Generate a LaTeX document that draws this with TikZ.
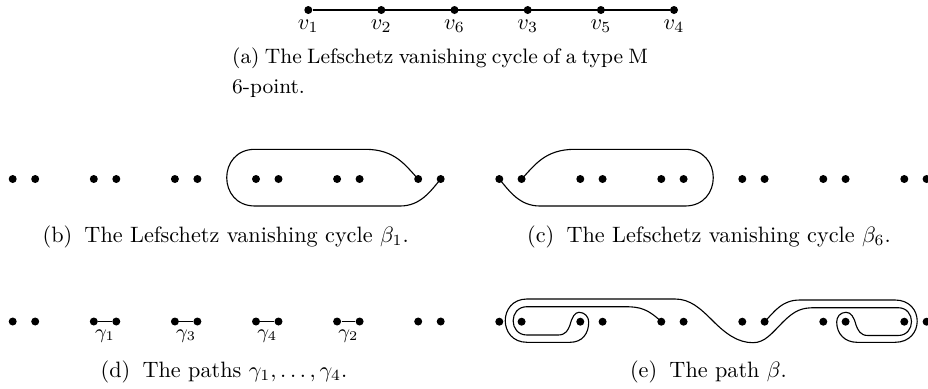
\documentclass[tikz,border=0pt]{standalone}
\usepackage{amsmath}
\usetikzlibrary{positioning}
\tikzset{
  pt/.style={circle, fill=black, inner sep=0pt, minimum size=3.6pt},
  seg/.style={line width=0.75pt},
  loopc/.style={line width=0.5pt},
  vlab/.style={inner sep=0pt, anchor=base},
  capt/.style={inner sep=0pt, anchor=base},
  glab/.style={font=\small, inner sep=0pt},
}
\newcommand{\sublab}[1]{(#1)\hspace{0.55em}}
\newcommand{\capafont}{\fontsize{9.4pt}{13.4pt}\selectfont\spaceskip=2.4pt plus 1pt minus 0.5pt\relax}

\begin{document}
\begin{tikzpicture}[x=0.45pt,y=-0.45pt]
  \useasboundingbox (0,0) rectangle (928,388);

  % (a) the chain of six points
  \foreach \i/\x/\s in {1/308.3/1,2/381.3/2,3/454.5/6,4/527.7/3,5/600.9/5,6/674/4} {
    \node[pt] (a\i) at (\x,10) {};
    \node[vlab] (va\i) at (\x,29.3) {$v_{\s}$};
  }
  \draw[seg] (a1) -- (a6);
  \node[inner sep=0pt, anchor=base west, align=left, font=\capafont] (capa) at (231.7,93)
    {(a) The Lefschetz vanishing cycle of a type M\\6-point.};

  % points of (b), (c), (d), (e)
  \foreach \k in {0,...,5} {
    \node[pt] (bL\k) at ({12.7+81.1*\k},179) {};
    \node[pt] (bR\k) at ({35.2+81.1*\k},179) {};
    \node[pt] (cL\k) at ({499.3+81*\k},179) {};
    \node[pt] (cR\k) at ({521.6+81*\k},179) {};
    \node[pt] (dL\k) at ({12.7+81.1*\k},321.5) {};
    \node[pt] (dR\k) at ({35.2+81.1*\k},321.5) {};
    \node[pt] (eL\k) at ({499.3+81*\k},321.7) {};
    \node[pt] (eR\k) at ({521.6+81*\k},321.7) {};
  }

  % (b)
  \draw[loopc] (bL5.center) .. controls (405,165) and (395,149.3) .. (365,149.3)
    -- (255,149.3) .. controls (217.3,149.3) and (217.3,206) .. (255,206)
    -- (400,206) .. controls (420,206) and (430,192) .. (bR5.center);
  \node[capt] (capb) at (225.7,242) {\sublab{b}The Lefschetz vanishing cycle $\beta_1$.};

  % (c)
  \draw[loopc] (cR0.center) .. controls (535,165) and (545,149.3) .. (575,149.3)
    -- (685,149.3) .. controls (722.7,149.3) and (722.7,206) .. (685,206)
    -- (540,206) .. controls (520,206) and (510,192) .. (cL0.center);
  \node[capt] (capc) at (709,242) {\sublab{c}The Lefschetz vanishing cycle $\beta_6$.};

  % (d)
  \foreach \k/\g in {1/1,2/3,3/4,4/2}
    \draw[seg] (dL\k) -- node[glab, below=3.2pt] {$\gamma_{\g}$} (dR\k);
  \node[capt] (capd) at (224,377) {\sublab{d}The paths $\gamma_1,\dots,\gamma_4$.};

  % (e)
  \draw[loopc] (eL2.center) .. controls (648,309) and (640,306.7) .. (625,306.7)
    -- (527,306.7) .. controls (508.5,306.7) and (508.5,335) .. (527,335)
    -- (558,335) .. controls (566,335) and (568,330) .. (570,325)
    .. controls (572,317) and (575,312.3) .. (579,312.3)
    .. controls (585,312.3) and (588.7,317) .. (588.7,322)
    .. controls (588.7,334) and (582,342.3) .. (570,342.3)
    -- (527,342.3) .. controls (498,342.3) and (498,299) .. (527,299)
    -- (675,299) .. controls (690,299) and (700,308) .. (713,321)
    .. controls (726,334) and (738,342.7) .. (753,342.7)
    .. controls (765,342.7) and (772,333) .. (783,322)
    .. controls (795,310) and (802,307.7) .. (815,307.7)
    -- (898,307.7) .. controls (916,307.7) and (916,335.5) .. (898,335.5)
    -- (868,335.5) .. controls (860,335.5) and (858,330) .. (856,325)
    .. controls (854,317) and (851,312.3) .. (846,312.3)
    .. controls (840,312.3) and (836.7,317) .. (836.7,322)
    .. controls (836.7,334) and (845,342.3) .. (857,342.3)
    -- (895,342.3) .. controls (924.6,342.3) and (924.6,300) .. (895,300)
    -- (800,300) .. controls (782,300) and (775,311) .. (eR3.center);
  \node[capt] (cape) at (708.5,377) {\sublab{e}The path $\beta$.};
\end{tikzpicture}
\end{document}
